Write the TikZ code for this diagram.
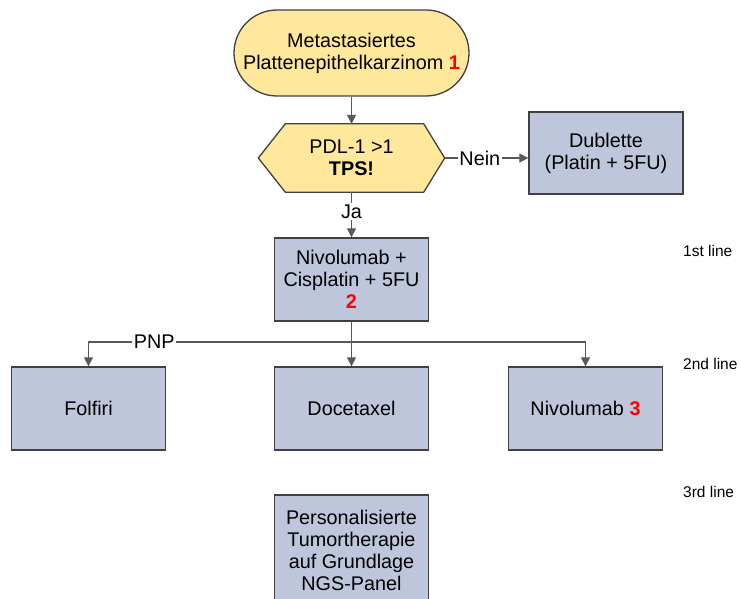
\documentclass[tikz,border=0pt]{standalone}
\usepackage{fontspec}
\setmainfont{Liberation Sans}
\usetikzlibrary{arrows.meta,backgrounds}
\definecolor{startfill}{HTML}{FFE89C}
\definecolor{boxfill}{HTML}{BEC6DC}
\definecolor{edgegray}{HTML}{404040}
\definecolor{linegray}{HTML}{595959}
\definecolor{numred}{HTML}{FF0000}
\newcommand\rednum[1]{\textcolor{numred}{\textbf{#1}}}

\begin{document}
\begin{tikzpicture}[x=1pt,y=-1pt,
  every node/.style={font=\fontsize{19.8}{22}\selectfont, align=center, inner sep=0pt},
  tbox/.style={draw=edgegray, line width=1.3pt, fill=boxfill,
               minimum width=154pt, minimum height=83pt},
  startbox/.style={draw=edgegray, line width=1.3pt, fill=startfill,
               rounded corners=43pt, minimum width=235pt, minimum height=86pt},
  decbox/.style={minimum width=186pt, minimum height=68pt},
  hexshape/.style={draw=edgegray, line width=1.3pt, fill=startfill},
  arr/.style={draw=linegray, line width=1.2pt, -{Triangle[length=9pt,width=9pt]}},
  lbl/.style={fill=white, inner sep=1.5pt},
  tier/.style={font=\fontsize{15.5}{18}\selectfont, anchor=west}
]
\useasboundingbox (0,0) rectangle (741,599);
\clip (0,0) rectangle (741,599);

% nodes
\node[startbox] (start) at (351.5,53) {Metastasiertes\\Plattenepithelkarzinom \rednum{1}};
\node[decbox] (pdl) at (351.5,158) {PDL-1 >1\\\textbf{TPS!}};
\node[tbox, minimum height=82pt] (dub) at (606,153) {Dublette\\(Platin + 5FU)};
\node[tbox] (nivo) at (351.5,279.5) {Nivolumab +\\Cisplatin + 5FU\\\rednum{2}};
\node[tbox] (folf) at (88.5,408.5) {Folfiri};
\node[tbox] (doce) at (351.5,408.5) {Docetaxel};
\node[tbox] (niv3) at (585.5,408.5) {Nivolumab \rednum{3}};
\node[tbox, minimum height=110pt] (pers) at (351.5,550) {Personalisierte\\Tumortherapie\\auf Grundlage\\NGS-Panel};

% decision hexagon behind its text
\begin{scope}[on background layer]
  \draw[hexshape] (pdl.west) -- ([xshift=27pt]pdl.north west)
    -- ([xshift=-21pt]pdl.north east) -- (pdl.east)
    -- ([xshift=-21pt]pdl.south east) -- ([xshift=27pt]pdl.south west) -- cycle;
\end{scope}

% line labels
\node[tier] (l1) at (683,251) {1st line};
\node[tier] (l2) at (683,364) {2nd line};
\node[tier] (l3) at (683,492) {3rd line};

% connectors
\draw[arr] (start.south) -- (pdl.north);
\draw[arr] (pdl.east) -- node[lbl, pos=0.42] {Nein} (pdl.east -| dub.west);
\draw[arr] (pdl.south) -- node[lbl, pos=0.43] {Ja} (nivo.north);
\coordinate (split) at (351.5,342);
\draw[arr] (nivo.south) -- (doce.north);
\draw[arr] (split) -- node[lbl, pos=0.75] {PNP} (split -| folf.north) -- (folf.north);
\draw[arr] (split) -- (split -| niv3.north) -- (niv3.north);
\end{tikzpicture}
\end{document}
